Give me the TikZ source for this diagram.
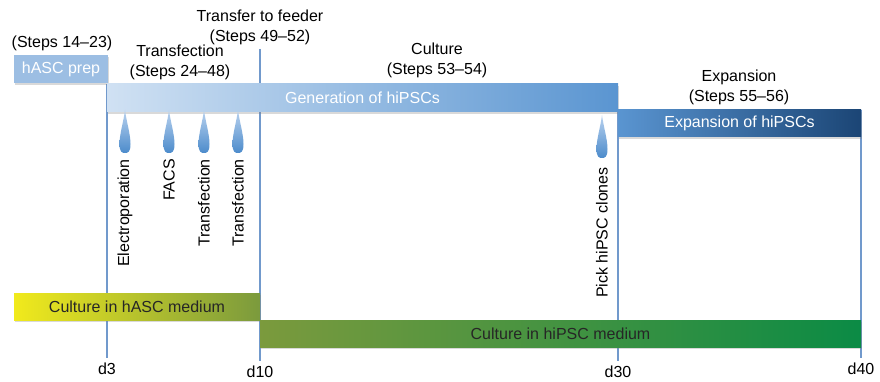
\documentclass[tikz,border=0pt]{standalone}
\usepackage{fontspec}
\setmainfont{Liberation Sans}
\usetikzlibrary{shadows,backgrounds}

\definecolor{prepblue}{HTML}{9CBEE3}
\definecolor{genleft}{HTML}{D0E1F3}
\definecolor{genright}{HTML}{5A95D1}
\definecolor{expright}{HTML}{1B4575}
\definecolor{hascyellow}{HTML}{F1EA1C}
\definecolor{hascolive}{HTML}{7B9A3D}
\definecolor{ipscmid}{HTML}{4E9A3F}
\definecolor{ipscgreen}{HTML}{0B8B45}
\definecolor{lineblue}{HTML}{7199CC}
\definecolor{dropa}{HTML}{B9D2EF}
\definecolor{dropb}{HTML}{4C8BCB}

\begin{document}
\begin{tikzpicture}[x=1pt,y=-1pt,
  every node/.style={font=\fontsize{16}{20}\selectfont},
  bar/.style={anchor=north west,minimum height=28pt,inner sep=0pt,outer sep=0pt,
    text=white,drop shadow={opacity=0.3,shadow xshift=1pt,shadow yshift=-2pt}},
  medbar/.style={bar,minimum height=27pt,text=black!85},
  dayline/.style={draw=lineblue,line width=2pt},
  day/.style={anchor=north,inner sep=1pt,outer sep=4pt},
  event/.style={rotate=90,anchor=east,inner sep=0pt},
  stage/.style={align=center,inner sep=0pt},
  drop/.pic={\shade[top color=dropa,bottom color=dropb]
    (0,0) .. controls (1.5,12) and (5.5,24) .. (5.5,34)
    .. controls (5.5,42) and (3,43) .. (0,43)
    .. controls (-3,43) and (-5.5,42) .. (-5.5,34)
    .. controls (-5.5,24) and (-1.5,12) .. (0,0) -- cycle;}]
 \useasboundingbox (0,0) rectangle (880,382);

 % stage headings
 \node[stage] (prepsteps) at (62,43) {(Steps 14–23)};
 \node[stage] (feedsteps) at (260,27) {Transfer to feeder\\(Steps 49–52)};
 \node[stage] (transsteps) at (180,62) {Transfection\\(Steps 24–48)};
 \node[stage] (culsteps) at (437,60) {Culture\\(Steps 53–54)};
 \node[stage] (expsteps) at (739,87) {Expansion\\(Steps 55–56)};

 % blue bars
 \node[bar,fill=prepblue,minimum width=94pt] (prep) at (14,55) {hASC prep};
 \node[bar,left color=genleft,right color=genright,minimum width=511pt] (gen) at (107,84) {Generation of hiPSCs};
 \node[bar,left color=genright,right color=expright,minimum width=243pt,minimum height=27pt] (expb) at (618,110) {Expansion of hiPSCs};

 % media bars
 \node[medbar,left color=hascyellow,right color=hascolive,minimum width=246pt] (hascmed) at (14,293) {Culture in hASC medium};
 \node[medbar,left color=hascolive,middle color=ipscmid,right color=ipscgreen,minimum width=601pt] (ipscmed) at (260,320) {Culture in hiPSC medium};

 % events
 \foreach \x/\name/\txt in {125/elec/Electroporation,169/facs/FACS,204/transa/Transfection,238/transb/Transfection}{
  \pic at (\x,110) {drop};
  \node[event] (\name) at (\x,159) {\txt};
 }
 \pic at (602,115) {drop};
 \node[event] (pick) at (602,167) {Pick hiPSC clones};

 % days
 \node[day] (d3) at (107,358) {d3};
 \node[day] (d10) at (260,361) {d10};
 \node[day] (d30) at (618,361) {d30};
 \node[day] (d40) at (861,358) {d40};
 \coordinate (feed) at (260,49);

 \begin{scope}[on background layer]
  \draw[dayline] (gen.north west) -- (d3.north);
  \draw[dayline] (feed) -- (d10.north);
  \draw[dayline] (gen.south east) -- (d30.north);
  \draw[dayline] (expb.north east) -- (d40.north);
 \end{scope}
\end{tikzpicture}
\end{document}
